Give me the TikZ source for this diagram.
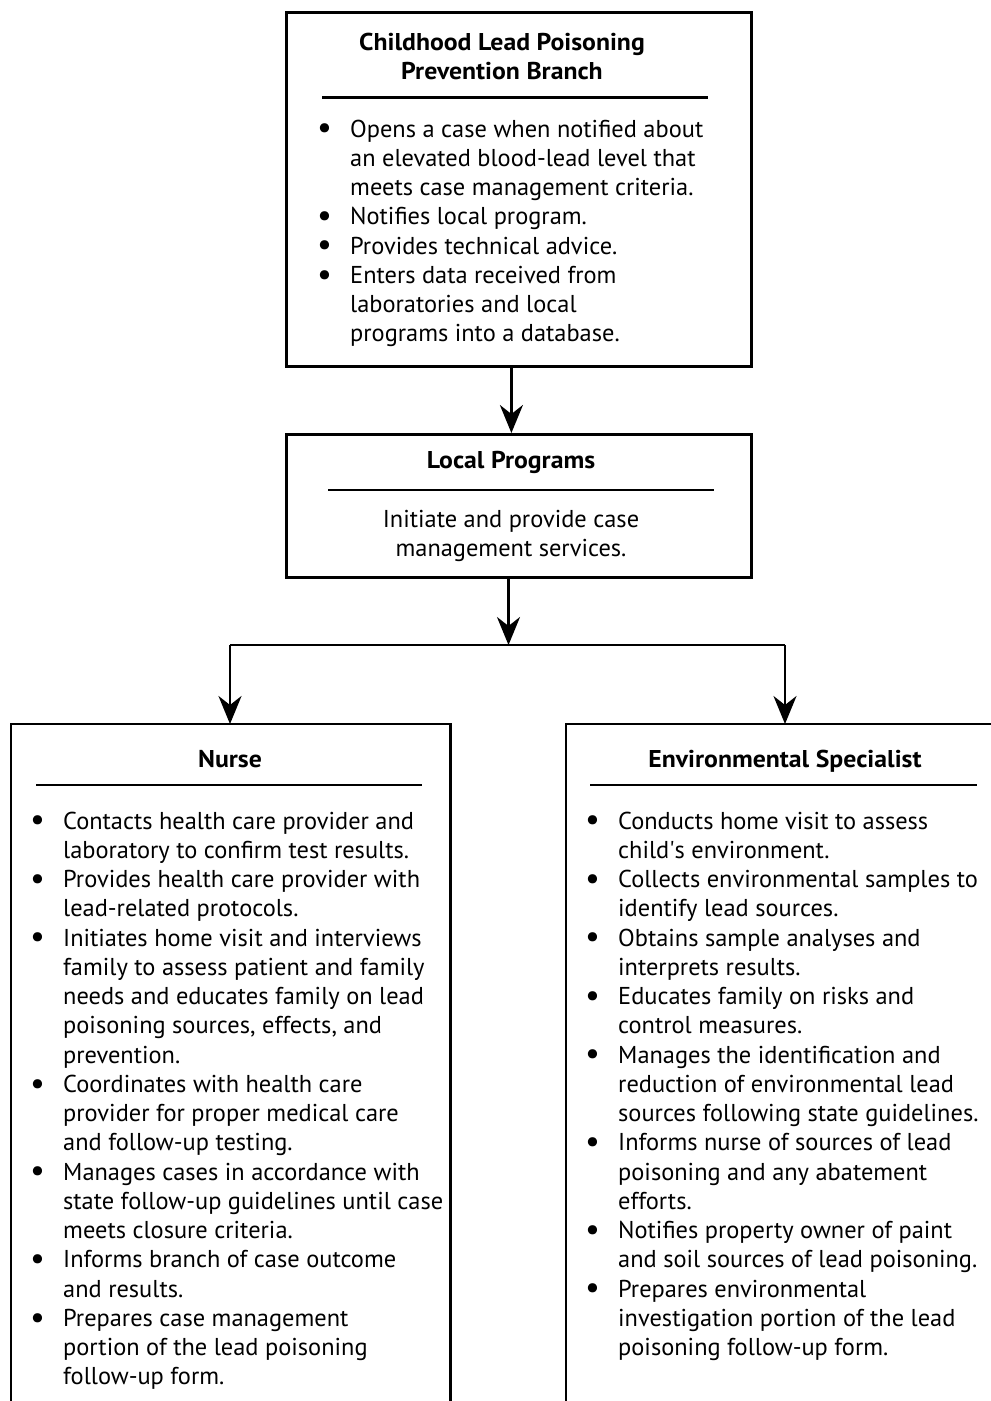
\documentclass[tikz,border=0pt]{standalone}
\usepackage{fontspec}
\setmainfont{PT Sans}[BoldFeatures={FakeStretch=1.06}]
\usetikzlibrary{arrows.meta}
\newcommand\bul{\makebox[33pt][l]{\raisebox{-1.8pt}{\scalebox{1.35}{\textbullet}}}}
\newcommand\ind{\hspace*{33pt}}
\begin{document}
\begin{tikzpicture}[x=1pt,y=-1pt,
  openbox/.style={draw=none,inner sep=0pt,anchor=north west},
  framebox/.style={draw=black,line width=2.8pt,inner sep=0pt,anchor=north west},
  rulel/.style={line width=2.7pt},
  arr/.style={line width=2.7pt,-{Stealth[length=28pt,width=23pt,inset=9pt]}},
  conn/.style={line width=2.7pt},
  body/.style={inner sep=0pt,align=left,font=\fontsize{24.4}{29.25}\selectfont,anchor=base west},
  cbody/.style={inner sep=0pt,align=center,font=\fontsize{24.4}{29.25}\selectfont,anchor=base},
  title/.style={inner sep=0pt,align=center,font=\fontsize{24.3}{29.25}\selectfont\bfseries,anchor=base}]
\useasboundingbox (0,0) rectangle (991,1401);
\fill[white] (0,0) rectangle (991,1401);

% boxes
\node[framebox,minimum width=465pt,minimum height=354pt] (clpp) at (285,11) {};
\node[framebox,minimum width=465pt,minimum height=143pt] (lp) at (285,433) {};
\node[openbox,minimum width=439pt,minimum height=677pt] (nurse) at (11,724) {};
\node[openbox,minimum width=425pt,minimum height=677pt] (env) at (566,724) {};
\draw[line width=2.8pt] (nurse.south west) -- (nurse.north west) -- (nurse.north east) -- (nurse.south east);
\draw[line width=2.8pt] (env.south west) -- (env.north west) -- (env.north east);

% top box text (anchor = baseline of last line)
\node[title] (t1) at (502,79.25) {Childhood Lead Poisoning\\Prevention Branch};
\draw[rulel] (322,97.7) -- (708,97.7);
\node[body] (b1) at (317,341.75) {\bul Opens a case when notified about\\
\ind an elevated blood-lead level that\\
\ind meets case management criteria.\\
\bul Notifies local program.\\
\bul Provides technical advice.\\
\bul Enters data received from\\
\ind laboratories and local\\
\ind programs into a database.};

% local programs text
\node[title] (t2) at (511,468) {Local Programs};
\draw[rulel] (328,490) -- (714,490);
\node[cbody] (b2) at (511,556.25) {Initiate and provide case\\management services.};

% nurse
\node[title] (t3) at (230,767) {Nurse};
\draw[rulel] (36,785) -- (422,785);
\node[body] (b3) at (30,1384.75) {\bul Contacts health care provider and\\
\ind laboratory to confirm test results.\\
\bul Provides health care provider with\\
\ind lead-related protocols.\\
\bul Initiates home visit and interviews\\
\ind family to assess patient and family\\
\ind needs and educates family on lead\\
\ind poisoning sources, effects, and\\
\ind prevention.\\
\bul Coordinates with health care\\
\ind provider for proper medical care\\
\ind and follow-up testing.\\
\bul Manages cases in accordance with\\
\ind state follow-up guidelines until case\\
\ind meets closure criteria.\\
\bul Informs branch of case outcome\\
\ind and results.\\
\bul Prepares case management\\
\ind portion of the lead poisoning\\
\ind follow-up form.};

% environmental specialist
\node[title] (t4) at (785,767) {Environmental Specialist};
\draw[rulel] (590,785) -- (977,785);
\node[body] (b4) at (585,1355.5) {\bul Conducts home visit to assess\\
\ind child\textquotesingle s environment.\\
\bul Collects environmental samples to\\
\ind identify lead sources.\\
\bul Obtains sample analyses and\\
\ind interprets results.\\
\bul Educates family on risks and\\
\ind control measures.\\
\bul Manages the identification and\\
\ind reduction of environmental lead\\
\ind sources following state guidelines.\\
\bul Informs nurse of sources of lead\\
\ind poisoning and any abatement\\
\ind efforts.\\
\bul Notifies property owner of paint\\
\ind and soil sources of lead poisoning.\\
\bul Prepares environmental\\
\ind investigation portion of the lead\\
\ind poisoning follow-up form.};

% connectors
\coordinate (bl) at (230,645);
\coordinate (bm) at (508.5,645);
\coordinate (br) at (785,645);
\draw[arr] ([xshift=-7.5pt]clpp.south) -- ([xshift=-7.5pt]lp.north);
\draw[arr] (bm |- lp.south) -- (bm);
\draw[conn] (bl) -- (br);
\draw[arr] (bl) -- (bl |- nurse.north);
\draw[arr] (br) -- (br |- env.north);
\end{tikzpicture}
\end{document}
